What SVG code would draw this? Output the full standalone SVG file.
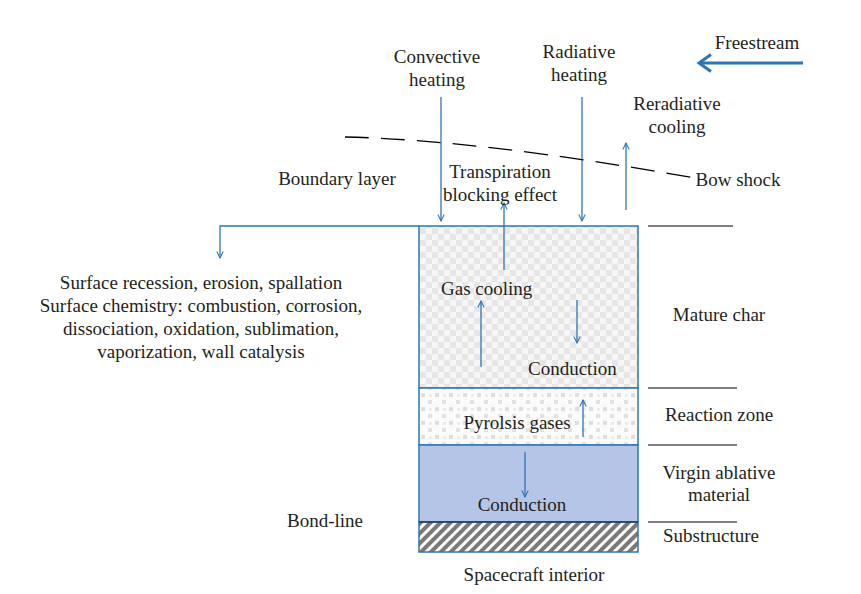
<svg xmlns="http://www.w3.org/2000/svg" width="861" height="594" viewBox="0 0 861 594">
<style>
.c{text-anchor:middle}
.ar{stroke:#2e75b6;stroke-width:1.3;fill:none}
.bk{stroke:#000;stroke-width:1;fill:none}
</style>
<defs>
<marker id="ah" viewBox="0 0 10 10" refX="9" refY="5" markerWidth="8" markerHeight="8" orient="auto" markerUnits="userSpaceOnUse">
<path d="M1,1 L9,5 L1,9" fill="none" stroke="#2e75b6" stroke-width="1.3"/>
</marker>
<marker id="ah2" viewBox="0 0 20 20" refX="16" refY="10" markerWidth="20" markerHeight="20" orient="auto" markerUnits="userSpaceOnUse">
<path d="M5,1.5 L17,10 L5,18.5" fill="none" stroke="#2e75b6" stroke-width="3"/>
</marker>
<pattern id="checker" width="12" height="12" patternUnits="userSpaceOnUse">
<rect width="12" height="12" fill="#f6f6f6"/>
<rect width="6" height="6" fill="#e6e6e6"/>
<rect x="6" y="6" width="6" height="6" fill="#e6e6e6"/>
</pattern>
<pattern id="dots" width="14" height="14" patternUnits="userSpaceOnUse">
<rect width="14" height="14" fill="#fbfbfb"/>
<rect x="1" y="1" width="4" height="4" fill="#dedede"/>
<rect x="8" y="8" width="4" height="4" fill="#e2e2e2"/>
<rect x="9" y="2" width="3" height="3" fill="#ececec"/>
</pattern>
<pattern id="stripes" width="7" height="7" patternUnits="userSpaceOnUse" patternTransform="rotate(45)">
<rect width="7" height="7" fill="#ffffff"/>
<rect width="4" height="7" fill="#7a7a7a"/>
</pattern>
</defs>

<g id="layers">
<g id="mature-char"><rect x="419" y="226" width="219" height="162" fill="url(#checker)" stroke="#2e75b6" stroke-width="1.5"/></g>
<g id="reaction-zone"><rect x="419" y="388" width="219" height="57" fill="url(#dots)" stroke="#2e75b6" stroke-width="1.5"/></g>
<g id="virgin"><rect x="419" y="445" width="219" height="77" fill="#b4c5e7" stroke="#2e75b6" stroke-width="1.5"/></g>
<g id="substructure"><rect x="419" y="522" width="219" height="30" fill="url(#stripes)" stroke="#2e75b6" stroke-width="1.5"/><line x1="419" y1="522" x2="638" y2="522" stroke="#1a1a1a" stroke-width="1"/></g>
</g>

<g id="connectors">
<path class="ar" d="M419,226 H220 V258" marker-end="url(#ah)"/>
<line class="ar" x1="441" y1="97" x2="441" y2="221" marker-end="url(#ah)"/>
<line class="ar" x1="582" y1="97" x2="582" y2="221" marker-end="url(#ah)"/>
<line class="ar" x1="626" y1="210" x2="626" y2="143" marker-end="url(#ah)"/>
<line class="ar" x1="504" y1="270" x2="504" y2="203" marker-end="url(#ah)"/>
<line class="ar" x1="481" y1="367" x2="481" y2="301" marker-end="url(#ah)"/>
<line class="ar" x1="577" y1="300" x2="577" y2="343" marker-end="url(#ah)"/>
<line class="ar" x1="583" y1="437" x2="583" y2="400" marker-end="url(#ah)"/>
<line class="ar" x1="525" y1="452" x2="525" y2="497" marker-end="url(#ah)"/>
<line x1="803" y1="63" x2="700" y2="63" stroke="#2e75b6" stroke-width="3" marker-end="url(#ah2)"/>
<path d="M345,137 Q480,140 695,178" fill="none" stroke="#000" stroke-width="1.3" stroke-dasharray="24,12"/>
<line class="bk" x1="648" y1="226" x2="733" y2="226"/>
<line class="bk" x1="648" y1="388" x2="737" y2="388"/>
<line class="bk" x1="648" y1="445" x2="737" y2="445"/>
<line class="bk" x1="648" y1="522" x2="737" y2="522"/>
</g>

<g id="labels" font-family="'Liberation Serif', 'DejaVu Serif', serif" font-size="19" fill="#231f20">
<text class="c" x="437" y="63">Convective</text>
<text class="c" x="437" y="86">heating</text>
<text class="c" x="579" y="58">Radiative</text>
<text class="c" x="579" y="81">heating</text>
<text class="c" x="757" y="49">Freestream</text>
<text class="c" x="677" y="110">Reradiative</text>
<text class="c" x="677" y="133">cooling</text>
<text class="c" x="337" y="185">Boundary layer</text>
<text class="c" x="500" y="178">Transpiration</text>
<text class="c" x="500" y="201">blocking effect</text>
<text class="c" x="738" y="186">Bow shock</text>
<text class="c" x="201" y="289">Surface recession, erosion, spallation</text>
<text class="c" x="201" y="312">Surface chemistry: combustion, corrosion,</text>
<text class="c" x="201" y="335">dissociation, oxidation, sublimation,</text>
<text class="c" x="201" y="358">vaporization, wall catalysis</text>
<text x="441" y="295">Gas cooling</text>
<text x="528" y="375">Conduction</text>
<text class="c" x="719" y="321">Mature char</text>
<text class="c" x="517" y="429">Pyrolsis gases</text>
<text class="c" x="719" y="421">Reaction zone</text>
<text class="c" x="719" y="479">Virgin ablative</text>
<text class="c" x="719" y="501">material</text>
<text class="c" x="522" y="511">Conduction</text>
<text class="c" x="325" y="527">Bond-line</text>
<text class="c" x="711" y="542">Substructure</text>
<text class="c" x="534" y="581">Spacecraft interior</text>
</g>
</svg>
